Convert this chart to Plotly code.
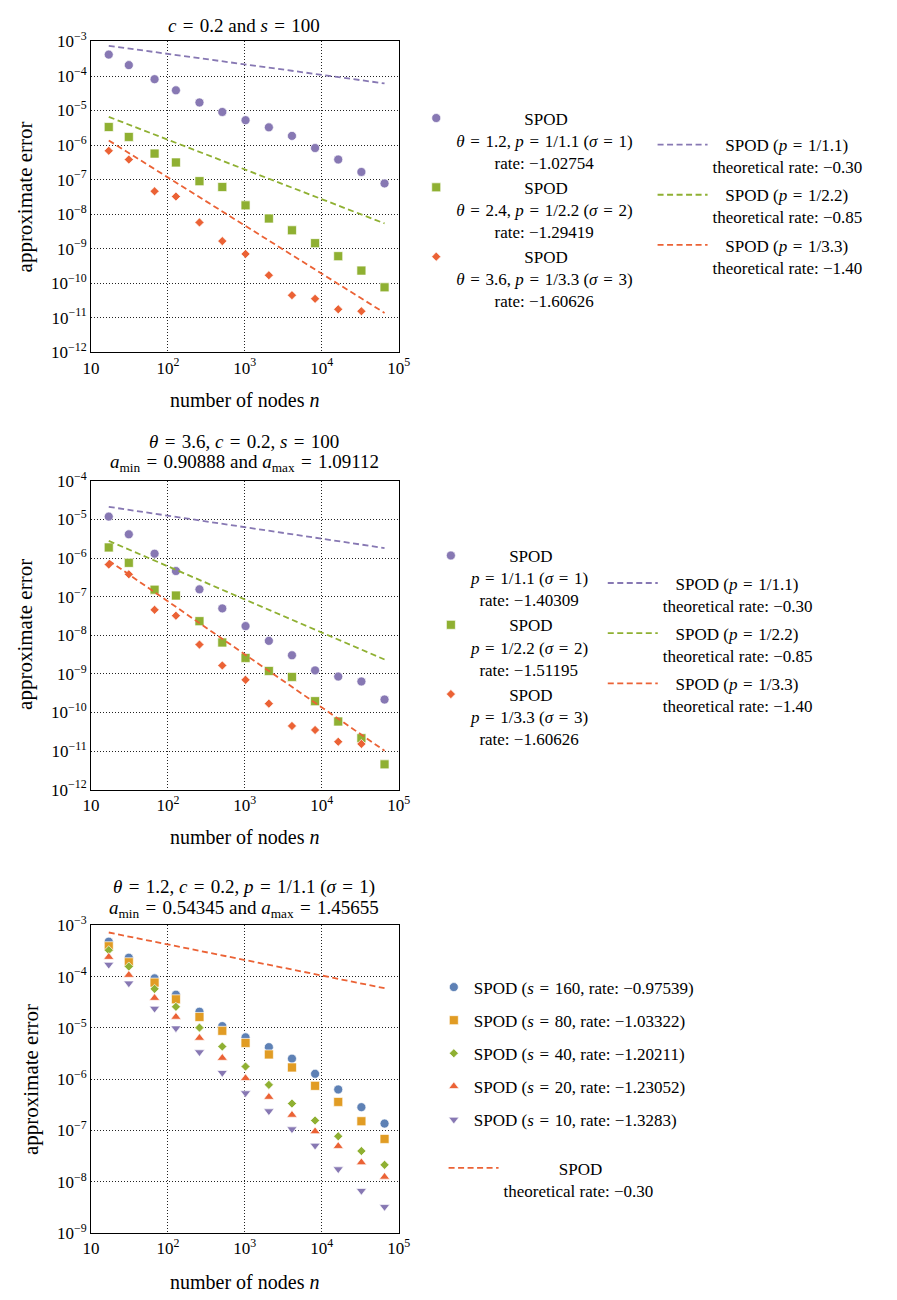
import re
import plotly.graph_objects as go

W, H = 897, 1300

# ---------------- data ----------------
n_nodes = [17, 31, 67, 127, 257, 509, 1021, 2053, 4099, 8191, 16381, 32771, 65537]
theory_n = [17, 65537]

# panel 1 : c = 0.2, s = 100
p1_sigma1 = [4.17e-4, 2.07e-4, 8.09e-5, 3.85e-5, 1.71e-5, 9.08e-6, 5.26e-6,
             3.25e-6, 1.84e-6, 8.2e-7, 3.81e-7, 1.66e-7, 7.73e-8]
p1_sigma2 = [3.32e-6, 1.72e-6, 5.65e-7, 3.13e-7, 9.0e-8, 6.07e-8, 1.79e-8,
             7.45e-9, 3.39e-9, 1.44e-9, 6.03e-10, 2.30e-10, 7.55e-11]
sigma3 = [6.8e-7, 3.8e-7, 4.57e-8, 3.22e-8, 5.73e-9, 1.65e-9, 7.0e-10,
          1.69e-10, 4.47e-11, 3.51e-11, 1.74e-11, 1.53e-11]
p1_theory_11 = [7.5e-4, 6.1e-5]
p1_theory_22 = [6.55e-6, 5.36e-9]
p1_theory_33 = [1.36e-6, 1.37e-11]
p1_rates = ["−1.02754", "−1.29419", "−1.60626"]

# panel 2 : theta = 3.6
p2_sigma1 = [1.19e-5, 4.13e-6, 1.30e-6, 4.62e-7, 1.55e-7, 4.97e-8, 1.73e-8,
             7.17e-9, 3.03e-9, 1.23e-9, 8.51e-10, 6.35e-10, 2.16e-10]
p2_sigma2 = [1.89e-6, 7.53e-7, 1.52e-7, 1.07e-7, 2.32e-8, 6.5e-9, 2.59e-9,
             1.19e-9, 8.34e-10, 1.96e-10, 5.83e-11, 2.15e-11, 4.51e-12]
p2_theory_11 = [2.13e-5, 1.82e-6]
p2_theory_22 = [2.79e-6, 2.35e-9]
p2_theory_33 = [8.63e-7, 1.02e-11]
p2_rates = ["−1.40309", "−1.51195", "−1.60626"]

# panel 3 : theta = 1.2, varying s
s_values = [160, 80, 40, 20, 10]
p3_rates = ["−0.97539", "−1.03322", "−1.20211", "−1.23052", "−1.3283"]
p3_s160 = [4.8e-4, 2.33e-4, 9.22e-5, 4.42e-5, 2.06e-5, 1.08e-5, 6.53e-6,
           4.2e-6, 2.51e-6, 1.27e-6, 6.29e-7, 2.84e-7, 1.36e-7]
p3_s80 = [3.9e-4, 1.9e-4, 7.62e-5, 3.6e-5, 1.63e-5, 8.75e-6, 5.08e-6,
          3.03e-6, 1.69e-6, 7.4e-7, 3.6e-7, 1.51e-7, 6.83e-8]
p3_s40 = [3.27e-4, 1.57e-4, 5.76e-5, 2.57e-5, 1.01e-5, 4.32e-6, 1.76e-6,
          7.73e-7, 3.34e-7, 1.56e-7, 7.68e-8, 3.96e-8, 2.13e-8]
p3_s20 = [2.4e-4, 1.07e-4, 3.81e-5, 1.63e-5, 6.34e-6, 2.58e-6, 1.04e-6,
          4.48e-7, 2.0e-7, 9.57e-8, 4.93e-8, 2.37e-8, 1.24e-8]
p3_s10 = [1.71e-4, 7.4e-5, 2.38e-5, 9.86e-6, 3.37e-6, 1.33e-6, 5.35e-7,
          2.38e-7, 1.06e-7, 5.08e-8, 1.76e-8, 6.67e-9, 3.24e-9]
p3_theory = [7.23e-4, 5.93e-5]
theory_rates = ["−0.30", "−0.85", "−1.40"]

x_tickvals = [10, 100, 1000, 10000, 100000]
x_ticktext = ["10", "10<sup>2</sup>", "10<sup>3</sup>", "10<sup>4</sup>", "10<sup>5</sup>"]

# ---------------- style ----------------
BLUE, ORANGE, GREEN, RED, PURPLE = "#5e81b5", "#e19c24", "#8fb032", "#eb6235", "#8778b3"
FONT = "Liberation Serif, Times New Roman, serif"
LEG = 17
EQ = "\u2004=\u2004"

# approximate Times widths (per 1000 em) for centring multi-line legend text
TWID = {' ': 250, '\u00a0': 250, '\u2004': 333, '(': 333, ')': 333, ',': 250, '.': 250,
        '/': 278, ':': 278, '=': 564, '−': 564, 'S': 556, 'P': 556, 'O': 722, 'D': 722,
        'θ': 500, 'σ': 550, 'a': 444, 'c': 444, 'e': 444, 'h': 500, 'i': 278, 'l': 278,
        'o': 500, 'p': 500, 'r': 333, 's': 389, 't': 278}


def tw(s):
    s = re.sub(r"<[^>]+>", "", s)
    return sum(TWID.get(ch, 500) for ch in s)


def centred(lines):
    ws = [tw(l) for l in lines]
    m = max(ws)
    return "<br>".join("\u00a0" * int(round((m - w) / 2 / 250)) + l for l, w in zip(lines, ws))


def px(x):
    return x / W


def py(y):
    return 1 - y / H


fig = go.Figure()

dash = "6px,3.5px"
mline = dict(width=0.8, color="rgba(255,255,255,0.85)")

# ----- panel 1 -----
p1_theta = ["1.2", "2.4", "3.6"]
p1_p = ["1/1.1", "1/2.2", "1/3.3"]
for i, (vals, col, sym, size) in enumerate([(p1_sigma1, PURPLE, "circle", 9),
                                             (p1_sigma2, GREEN, "square", 9),
                                             (sigma3, RED, "diamond", 7)]):
    name = centred(["SPOD",
                    f"<i>θ</i>{EQ}{p1_theta[i]}, <i>p</i>{EQ}{p1_p[i]} (<i>σ</i>{EQ}{i+1})",
                    f"rate: {p1_rates[i]}"])
    fig.add_trace(go.Scatter(x=n_nodes[:len(vals)], y=vals, mode="markers", name=name,
                             marker=dict(color=col, symbol=sym, size=size, line=mline),
                             xaxis="x", yaxis="y", legend="legend", legendgroup=f"a{i}"))
for i, (vals, col) in enumerate([(p1_theory_11, PURPLE), (p1_theory_22, GREEN), (p1_theory_33, RED)]):
    name = centred([f"SPOD (<i>p</i>{EQ}{p1_p[i]})", f"theoretical rate: {theory_rates[i]}"])
    fig.add_trace(go.Scatter(x=theory_n, y=vals, mode="lines", name=name,
                             line=dict(color=col, width=1.8, dash=dash),
                             xaxis="x", yaxis="y", legend="legend2", legendgroup=f"b{i}"))

# ----- panel 2 -----
for i, (vals, col, sym, size) in enumerate([(p2_sigma1, PURPLE, "circle", 9),
                                             (p2_sigma2, GREEN, "square", 9),
                                             (sigma3, RED, "diamond", 7)]):
    name = centred(["SPOD", f"<i>p</i>{EQ}{p1_p[i]} (<i>σ</i>{EQ}{i+1})",
                    f"rate: {p2_rates[i]}"])
    fig.add_trace(go.Scatter(x=n_nodes[:len(vals)], y=vals, mode="markers", name=name,
                             marker=dict(color=col, symbol=sym, size=size, line=mline),
                             xaxis="x2", yaxis="y2", legend="legend3", legendgroup=f"c{i}"))
for i, (vals, col) in enumerate([(p2_theory_11, PURPLE), (p2_theory_22, GREEN), (p2_theory_33, RED)]):
    name = centred([f"SPOD (<i>p</i>{EQ}{p1_p[i]})", f"theoretical rate: {theory_rates[i]}"])
    fig.add_trace(go.Scatter(x=theory_n, y=vals, mode="lines", name=name,
                             line=dict(color=col, width=1.8, dash=dash),
                             xaxis="x2", yaxis="y2", legend="legend4", legendgroup=f"d{i}"))

# ----- panel 3 -----
for i, (vals, col, sym, size) in enumerate([(p3_s160, BLUE, "circle", 9),
                                             (p3_s80, ORANGE, "square", 9),
                                             (p3_s40, GREEN, "diamond", 7),
                                             (p3_s20, RED, "triangle-up", 9),
                                             (p3_s10, PURPLE, "triangle-down", 9)]):
    name = f"SPOD (<i>s</i>{EQ}{s_values[i]}, rate: {p3_rates[i]})"
    fig.add_trace(go.Scatter(x=n_nodes, y=vals, mode="markers", name=name,
                             marker=dict(color=col, symbol=sym, size=size, line=mline),
                             xaxis="x3", yaxis="y3", legend="legend5", legendgroup=f"e{i}"))
fig.add_trace(go.Scatter(x=theory_n, y=p3_theory, mode="lines",
                         name=centred(["SPOD", f"theoretical rate: {theory_rates[0]}"]),
                         line=dict(color=RED, width=1.8, dash=dash),
                         xaxis="x3", yaxis="y3", legend="legend6"))

# ---------------- axes ----------------
def xax(anchor):
    return dict(type="log", range=[1, 5], domain=[px(84), px(399)], anchor=anchor,
                tickvals=x_tickvals, ticktext=x_ticktext, ticks="",
                showgrid=True, gridcolor="#222", gridwidth=1, griddash="1px,2px",
                showline=True, mirror=True, linecolor="black", linewidth=1,
                zeroline=False, tickfont=dict(family=FONT, size=17, color="black"))


def yax(lo, hi, top_px, bottom_px, anchor):
    vals = [10.0 ** e for e in range(lo, hi + 1)]
    text = [f"10<sup>−{-e}</sup>" for e in range(lo, hi + 1)]
    return dict(type="log", range=[lo, hi], domain=[py(bottom_px), py(top_px)], anchor=anchor,
                tickvals=vals, ticktext=text, ticks="",
                showgrid=True, gridcolor="#222", gridwidth=1, griddash="1px,2px",
                showline=True, mirror=True, linecolor="black", linewidth=1,
                zeroline=False, tickfont=dict(family=FONT, size=17, color="black"))


legend_common = dict(font=dict(family=FONT, size=LEG, color="black"), bgcolor="rgba(0,0,0,0)",
                     borderwidth=0, xanchor="left", yanchor="top", valign="top",
                     traceorder="grouped")

fig.update_layout(
    width=W, height=H, margin=dict(l=0, r=0, t=0, b=0),
    paper_bgcolor="white", plot_bgcolor="white",
    font=dict(family=FONT, color="black"),
    xaxis=xax("y"), yaxis=yax(-12, -3, 30, 346, "x"),
    xaxis2=xax("y2"), yaxis2=yax(-12, -4, 477, 791, "x2"),
    xaxis3=xax("y3"), yaxis3=yax(-9, -3, 929, 1242, "x3"),
    legend=dict(legend_common, x=px(417), y=py(90), tracegroupgap=0),
    legend2=dict(legend_common, x=px(659), y=py(117), tracegroupgap=3, itemwidth=50),
    legend3=dict(legend_common, x=px(432), y=py(535), tracegroupgap=0),
    legend4=dict(legend_common, x=px(608), y=py(563), tracegroupgap=3, itemwidth=50),
    legend5=dict(legend_common, x=px(435), y=py(974), tracegroupgap=8),
    legend6=dict(legend_common, x=px(445), y=py(1158), itemwidth=50),
)

ann = []


def text(x, y, s, angle=0, size=19):
    ann.append(dict(x=px(x), y=py(y), xref="paper", yref="paper", text=s, showarrow=False,
                    xanchor="center", yanchor="middle", textangle=angle,
                    font=dict(family=FONT, size=size, color="black")))


text(241, 14, f"<i>c</i>{EQ}0.2 and <i>s</i>{EQ}100")
text(241, 437, f"<i>θ</i>{EQ}3.6, <i>c</i>{EQ}0.2, <i>s</i>{EQ}100")
text(241, 459, f"<i>a</i><sub>min</sub>{EQ}0.90888 and <i>a</i><sub>max</sub>{EQ}1.09112")
text(241, 890, f"<i>θ</i>{EQ}1.2, <i>c</i>{EQ}0.2, <i>p</i>{EQ}1/1.1 (<i>σ</i>{EQ}1)")
text(241, 912, f"<i>a</i><sub>min</sub>{EQ}0.54345 and <i>a</i><sub>max</sub>{EQ}1.45655")
for yc in (395, 839, 1292):
    text(241, yc, "number of nodes <i>n</i>", size=20)
for xc, yc in ((16, 188), (17, 633), (22, 1086)):
    text(xc, yc, "approximate error", angle=-90, size=21)

fig.update_layout(annotations=ann)
fig.write_html("out.html", config={"displayModeBar": False},
               post_script="document.body.style.margin='0';document.body.style.overflow='hidden';")
